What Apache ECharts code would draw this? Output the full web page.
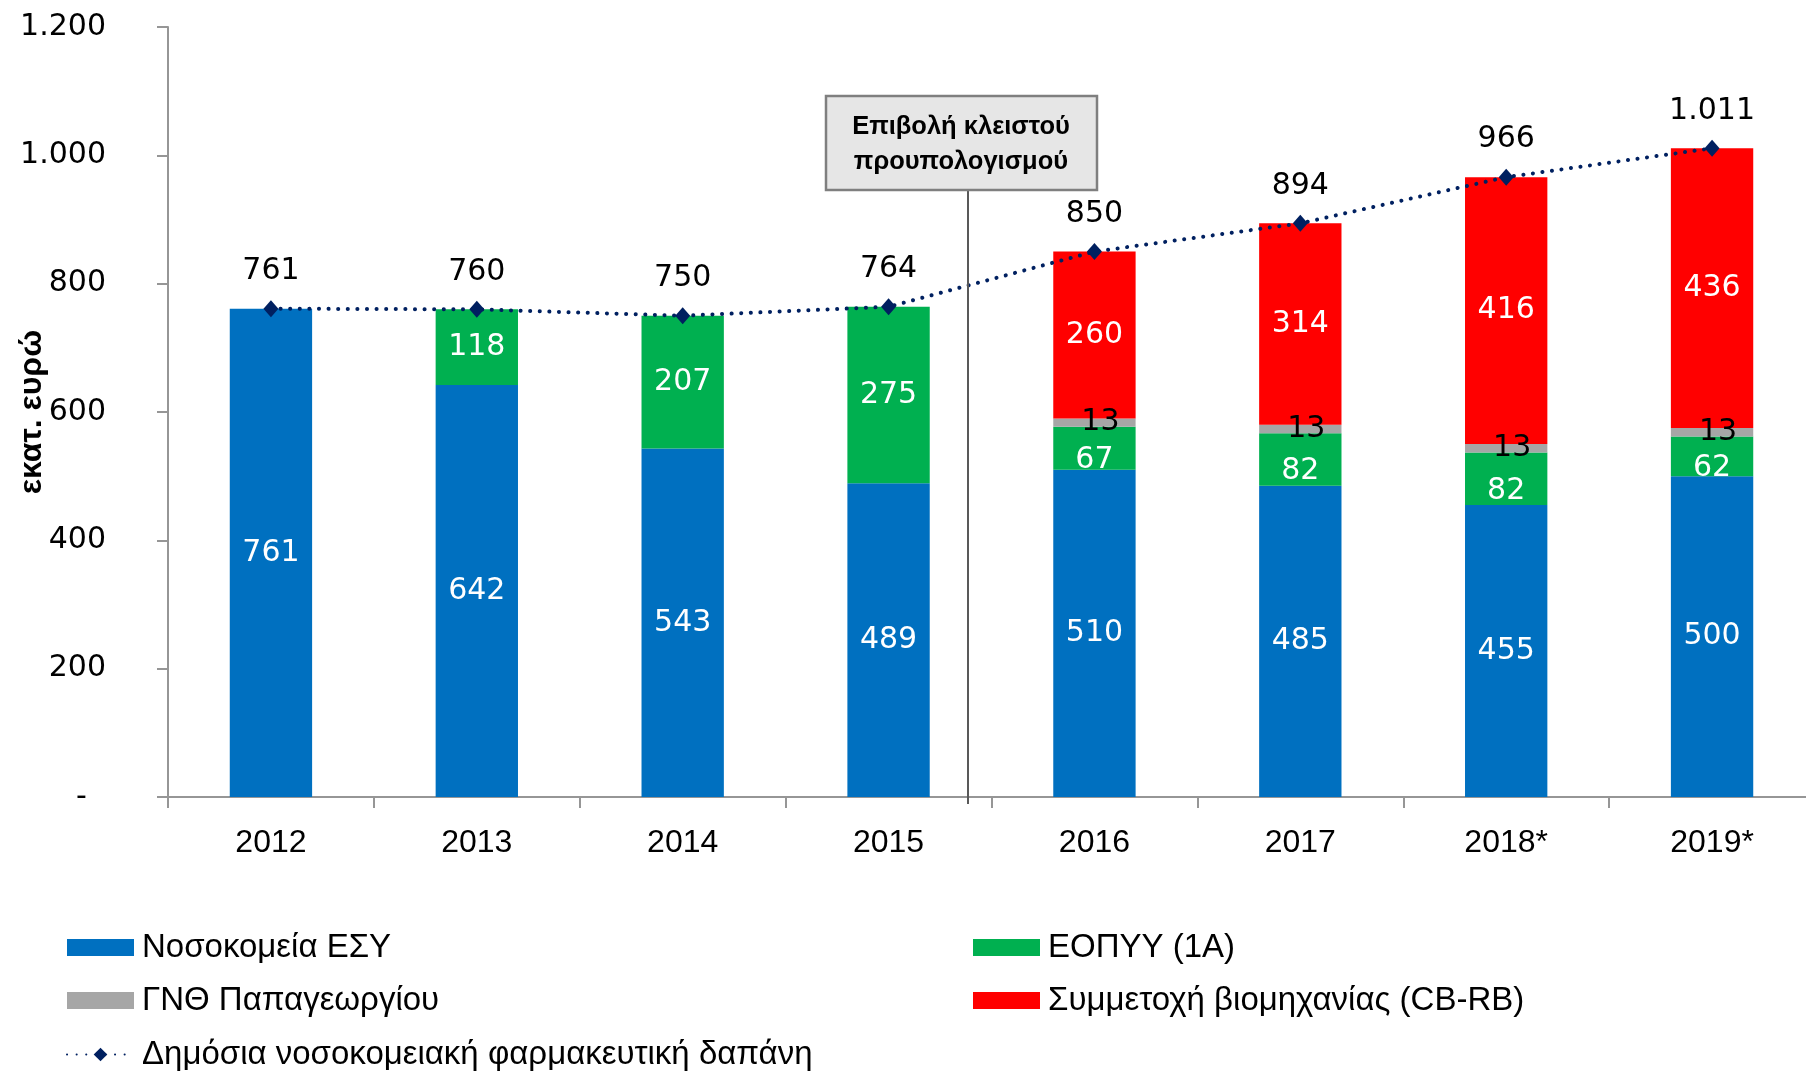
<!DOCTYPE html>
<html>
<head>
<meta charset="utf-8">
<script src="https://cdn.jsdelivr.net/npm/echarts@6/dist/echarts.min.js"></script>
<style>
html,body{margin:0;padding:0;background:#fff;}
#chart{width:1806px;height:1073px;}
</style>
</head>
<body>
<div id="chart"></div>
<script>
const categories = ['2012','2013','2014','2015','2016','2017','2018*','2019*'];
const hospitalsESY = [761, 642, 543, 489, 510, 485, 455, 500];
const eopyy = [null, 118, 207, 275, 67, 82, 82, 62];
const papageorgiou = [null, null, null, null, 13, 13, 13, 13];
const industry = [null, null, null, null, 260, 314, 416, 436];
const totalSpend = [761, 760, 750, 764, 850, 894, 966, 1011];
const yTicks = [0, 200, 400, 600, 800, 1000, 1200];

const seriesNames = ['Νοσοκομεία ΕΣΥ','ΕΟΠΥΥ (1Α)','ΓΝΘ Παπαγεωργίου','Συμμετοχή βιομηχανίας (CB-RB)','Δημόσια νοσοκομειακή φαρμακευτική δαπάνη'];

const numFont = 'DejaVu Sans';
const txtFont = 'Liberation Sans';

function fmt(v){
  if (v === 0) return '-  ';
  return String(v).replace(/\B(?=(\d{3})+(?!\d))/g, '.');
}

function barLabel(color){
  return {
    show: true,
    position: 'inside',
    color: color,
    fontFamily: numFont,
    fontSize: 30,
    formatter: p => fmt(p.value)
  };
}

function legendAt(name, left, top, icon){
  const l = {
    data: [name],
    orient: 'horizontal', left: left, top: top, padding: 0,
    itemWidth: 67, itemHeight: 17,
    textStyle: {fontFamily: txtFont, fontSize: 33, color: '#000', padding: [0,0,0,3]},
    selectedMode: false
  };
  if (icon) l.icon = icon;
  return l;
}

const chart = echarts.init(document.getElementById('chart'));

const greenData = eopyy.map((v, i) => (papageorgiou[i] != null && v != null) ? {value: v, label: {offset: [0, 12]}} : v);
const grayData = papageorgiou.map(v => v == null ? v : {value: v, label: {offset: [6, 0]}});

chart.setOption({
  animation: false,
  backgroundColor: '#fff',
  grid: {left: 168, right: -9, top: 27, bottom: 276, containLabel: false, outerBoundsMode: 'none'},
  legend: [
    legendAt(seriesNames[0], 67, 931, 'rect'),
    legendAt(seriesNames[2], 67, 984, 'rect'),
    legendAt(seriesNames[4], 66, 1038),
    legendAt(seriesNames[1], 973, 931, 'rect'),
    legendAt(seriesNames[3], 973, 984, 'rect')
  ],
  xAxis: {
    type: 'category',
    data: categories,
    axisLine: {lineStyle: {color: '#969696', width: 2}},
    axisTick: {show: true, length: 11, lineStyle: {color: '#969696', width: 2}},
    axisLabel: {fontFamily: txtFont, fontSize: 32, color: '#000', margin: 30},
    splitLine: {show: false}
  },
  yAxis: {
    type: 'value',
    min: yTicks[0], max: yTicks[yTicks.length - 1], interval: 200,
    name: 'εκατ. ευρώ',
    nameLocation: 'middle',
    nameGap: 120,
    nameMoveOverlap: false,
    nameTextStyle: {fontFamily: txtFont, fontSize: 32, fontWeight: 'bold', color: '#000'},
    axisLine: {show: true, lineStyle: {color: '#969696', width: 2}},
    axisTick: {show: true, length: 11, lineStyle: {color: '#969696', width: 2}},
    axisLabel: {fontFamily: numFont, fontSize: 30, color: '#000', margin: 62, formatter: v => fmt(v)},
    splitLine: {show: false}
  },
  series: [
    {name: seriesNames[0], type: 'bar', stack: 'a', barWidth: '40%', data: hospitalsESY,
     itemStyle: {color: '#0070c0'}, label: barLabel('#fff')},
    {name: seriesNames[1], type: 'bar', stack: 'a', data: greenData,
     itemStyle: {color: '#00b050'}, label: barLabel('#fff')},
    {name: seriesNames[2], type: 'bar', stack: 'a', data: grayData,
     itemStyle: {color: '#a6a6a6'}, label: barLabel('#000')},
    {name: seriesNames[3], type: 'bar', stack: 'a', data: industry,
     itemStyle: {color: '#ff0000'}, label: barLabel('#fff')},
    {name: seriesNames[4], type: 'line', data: totalSpend,
     symbol: 'diamond', symbolSize: [15, 17],
     itemStyle: {color: '#002060'},
     lineStyle: {color: '#002060', width: 4, type: [0.1, 9.5], cap: 'round'},
     label: {show: true, position: 'top', distance: 14, color: '#000', fontFamily: numFont, fontSize: 30, formatter: p => fmt(p.value)},
     z: 5}
  ],
  graphic: [
    {type: 'line', shape: {x1: 968, y1: 191, x2: 968, y2: 804}, style: {stroke: '#595959', lineWidth: 2}, z: 10},
    {type: 'rect', shape: {x: 826, y: 96, width: 271, height: 94}, style: {fill: '#e6e6e6', stroke: '#7f7f7f', lineWidth: 2.5}, z: 10},
    {type: 'text', x: 961, y: 144, z: 11,
     style: {text: 'Επιβολή κλειστού\nπρουπολογισμού', fill: '#000', font: 'bold 25.5px "Liberation Sans"', align: 'center', verticalAlign: 'middle', lineHeight: 35}}
  ]
});
</script>
</body>
</html>
